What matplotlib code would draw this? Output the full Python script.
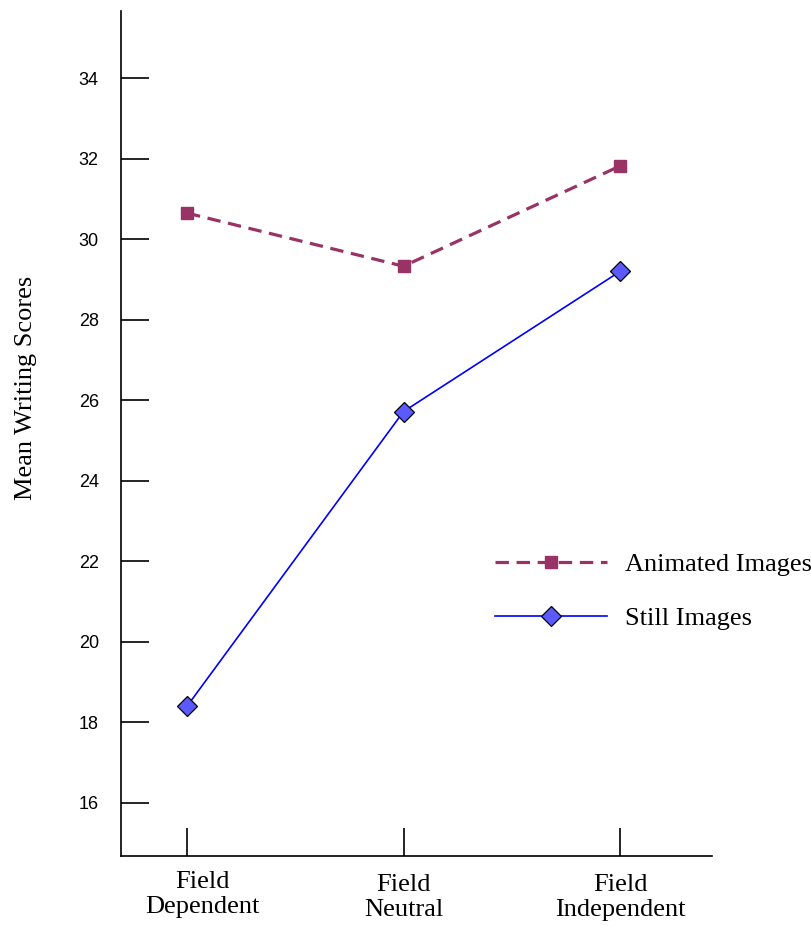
import matplotlib.pyplot as plt
import matplotlib.transforms as mtransforms
import numpy as np

groups = ['Field\nDependent', 'Field\nNeutral', 'Field\nIndependent']
animated = [30.65, 29.33, 31.82]
still = [18.40, 25.72, 29.20]
yticks = [16, 18, 20, 22, 24, 26, 28, 30, 32, 34]

x = np.arange(len(groups))

fig = plt.figure(figsize=(8.12, 9.26), dpi=100)
ax = fig.add_axes([121/812, 70/926, (712-121)/812, (856-11)/926])

ax.plot(x, animated, color='#993366', lw=2.3, ls=(0, (4.2, 2.4)),
        marker='s', ms=9, mfc='#993366', mec='#993366', label='Animated Images')
ax.plot(x, still, color='#0000ff', lw=1.2, marker='D', ms=10.5,
        mfc='#5a5aff', mec='black', mew=0.9, label='Still Images')

ax.set_xlim(-0.305, 2.425)
ax.set_ylim(14.68, 35.67)
ax.set_xticks(x)
ax.set_xticklabels(groups, family='Liberation Serif', fontsize=19, linespacing=1.2)
ax.set_yticks(yticks)
ax.set_yticklabels([str(v) for v in yticks], family='Liberation Sans', fontsize=13)
ax.tick_params(axis='both', direction='in', width=1.2)
ax.tick_params(axis='y', length=20, pad=16)
ax.tick_params(axis='x', length=20, pad=13)
for s in ['top', 'right']:
    ax.spines[s].set_visible(False)
for s in ['left', 'bottom']:
    ax.spines[s].set_linewidth(1.2)

# first group label sits a little right of its tick in the original
lbl = ax.get_xticklabels()[0]
lbl.set_transform(lbl.get_transform() + mtransforms.ScaledTranslation(15/100, 3/100, fig.dpi_scale_trans))

ax.set_ylabel('Mean Writing Scores', family='Liberation Serif', fontsize=19)
ax.yaxis.set_label_coords(-0.142, 0.554)

leg = ax.legend(loc='upper left', bbox_to_anchor=(471/812, 1 - 529/926),
                bbox_transform=fig.transFigure, frameon=False, handlelength=4.25,
                handletextpad=0.68, labelspacing=1.14,
                prop={'family': 'Liberation Serif', 'size': 19})

fig.savefig('out.png', dpi=100)
